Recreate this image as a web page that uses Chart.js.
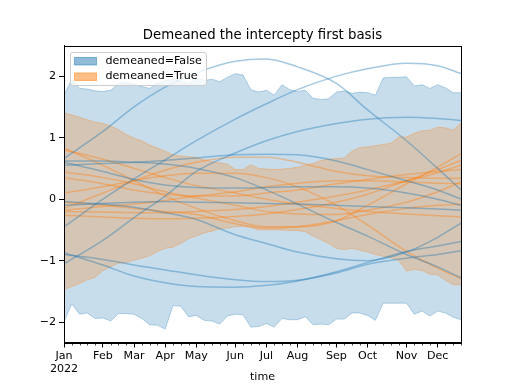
<!DOCTYPE html>
<html>
<head>
<meta charset="utf-8">
<script src="https://cdn.jsdelivr.net/npm/chart.js@4.4.0/dist/chart.umd.min.js"></script>
<style>
  html, body { margin: 0; padding: 0; background: #fff; }
</style>
</head>
<body>
<canvas id="chart" width="512" height="384"></canvas>
<script>
// weekly bands (52 weeks of 2022)
var blueUpper = [1.69,1.95,1.80,1.79,1.76,1.75,1.77,1.88,1.90,1.87,1.83,1.80,1.89,1.93,1.95,1.92,1.88,1.97,1.93,1.95,1.91,1.98,2.04,2.02,1.78,1.74,
                 1.77,1.69,1.86,1.78,1.75,1.77,1.64,1.62,1.63,1.74,1.76,1.72,1.74,1.73,1.69,1.97,1.98,1.98,1.99,1.84,1.86,1.80,1.86,1.81,1.73,1.73];
var blueLower = [-1.99,-1.70,-1.87,-1.85,-1.94,-1.93,-1.98,-1.86,-1.86,-1.87,-1.94,-2.04,-2.05,-2.11,-1.73,-1.74,-1.91,-1.89,-1.97,-1.98,-2.03,-1.90,-1.87,-1.88,-2.08,-2.07,
                 -2.02,-2.08,-1.94,-1.96,-1.96,-1.91,-2.04,-2.03,-2.04,-1.95,-1.95,-1.85,-1.85,-1.89,-1.97,-1.69,-1.69,-1.69,-1.69,-1.87,-1.82,-1.90,-1.82,-1.85,-1.92,-1.96];
var orangeUpper = [1.40,1.37,1.33,1.29,1.25,1.23,1.19,1.13,1.05,0.99,0.95,0.88,0.83,0.78,0.72,0.70,0.69,0.68,0.64,0.61,0.59,0.57,0.48,0.48,0.56,0.50,
                   0.49,0.48,0.49,0.50,0.52,0.55,0.58,0.63,0.65,0.66,0.67,0.78,0.84,0.85,0.87,0.89,0.91,1.01,1.01,1.07,1.11,1.12,1.17,1.16,1.12,1.24];
var orangeLower = [-1.47,-1.42,-1.37,-1.31,-1.27,-1.16,-1.10,-1.04,-1.03,-0.99,-0.96,-0.92,-0.85,-0.80,-0.78,-0.72,-0.64,-0.60,-0.55,-0.52,-0.48,-0.47,-0.45,-0.44,-0.46,-0.50,
                   -0.50,-0.50,-0.50,-0.51,-0.51,-0.53,-0.60,-0.66,-0.72,-0.80,-0.82,-0.80,-0.83,-0.86,-0.90,-0.93,-0.95,-1.00,-1.17,-1.14,-1.16,-1.22,-1.23,-1.32,-1.39,-1.39];

// sampled weeks for the individual curves
var lineWeeks = [0, 5, 9, 13, 17, 22, 26, 30, 35, 39, 44, 48, 51];
var blueLines = [
  [0.66, 1.10, 1.50, 1.82, 2.05, 2.24, 2.28, 2.15, 1.88, 1.45, 0.95, 0.50, 0.15],
  [-0.45, 0.00, 0.33, 0.64, 0.95, 1.30, 1.55, 1.78, 2.00, 2.12, 2.21, 2.17, 2.04],
  [-1.05, -0.67, -0.30, 0.05, 0.45, 0.75, 0.95, 1.10, 1.23, 1.30, 1.33, 1.31, 1.28],
  [0.55, 0.58, 0.60, 0.63, 0.67, 0.72, 0.73, 0.72, 0.62, 0.48, 0.30, 0.15, 0.00],
  [0.60, 0.45, 0.32, 0.23, 0.19, 0.18, 0.19, 0.20, 0.20, 0.18, 0.10, 0.00, -0.10],
  [-0.10, -0.07, -0.05, -0.04, -0.05, -0.06, -0.07, -0.08, -0.10, -0.12, -0.14, -0.16, -0.18],
  [0.62, 0.62, 0.60, 0.57, 0.50, 0.35, 0.15, -0.08, -0.38, -0.60, -0.90, -1.10, -1.28],
  [-0.87, -1.07, -1.25, -1.36, -1.42, -1.43, -1.40, -1.33, -1.18, -1.03, -0.85, -0.76, -0.69],
  [-0.90, -0.98, -1.07, -1.15, -1.23, -1.31, -1.34, -1.32, -1.20, -1.06, -0.96, -0.90, -0.84],
  [-0.04, -0.08, -0.13, -0.22, -0.33, -0.58, -0.72, -0.86, -0.97, -1.00, -0.86, -0.62, -0.39]
];
var orangeLines = [
  [0.83, 0.55, 0.30, 0.05, -0.15, -0.35, -0.45, -0.45, -0.35, -0.10, 0.25, 0.52, 0.74],
  [0.80, 0.65, 0.50, 0.35, 0.22, 0.10, 0.00, -0.08, -0.15, -0.20, -0.24, -0.27, -0.29],
  [0.44, 0.35, 0.25, 0.12, 0.02, -0.10, -0.20, -0.24, -0.25, -0.18, -0.05, 0.12, 0.28],
  [-0.15, 0.10, 0.30, 0.47, 0.60, 0.68, 0.68, 0.60, 0.45, 0.38, 0.35, 0.34, 0.34],
  [-0.20, -0.21, -0.22, -0.22, -0.20, -0.17, -0.12, -0.05, 0.05, 0.15, 0.30, 0.43, 0.55],
  [-0.26, -0.29, -0.31, -0.32, -0.31, -0.28, -0.24, -0.17, -0.05, 0.08, 0.30, 0.48, 0.63],
  [0.10, 0.20, 0.30, 0.38, 0.42, 0.42, 0.35, 0.20, -0.10, -0.42, -0.85, -1.12, -1.29],
  [-0.05, -0.10, -0.15, -0.20, -0.25, -0.40, -0.47, -0.45, -0.35, -0.25, -0.15, -0.10, -0.08],
  [0.35, 0.25, 0.15, 0.08, 0.05, 0.05, 0.10, 0.15, 0.25, 0.32, 0.40, 0.45, 0.48],
  [-0.18, -0.12, -0.08, -0.02, 0.05, 0.12, 0.20, 0.26, 0.30, 0.30, 0.28, 0.26, 0.25]
];

var majorWeeks = [0, 5, 9, 13, 17, 22, 26, 30, 35, 39, 44, 48];
var monthNames = ['Jan', 'Feb', 'Mar', 'Apr', 'May', 'Jun', 'Jul', 'Aug', 'Sep', 'Oct', 'Nov', 'Dec'];
var yearLabel = '2022';
var yTicks = [-2, -1, 0, 1, 2];
var legendLabels = ['demeaned=False', 'demeaned=True'];

var BLUE = '31,119,180';
var ORANGE = '255,127,14';
var FONT = 'DejaVu Sans';

var toPts = (arr) => arr.map((v, i) => ({x: i, y: v}));
var toLine = (arr) => arr.map((v, i) => ({x: lineWeeks[i], y: v}));

var band = (arr, rgb, fill, order) => ({
  data: toPts(arr),
  borderColor: 'rgba(' + rgb + ',0.3)',
  backgroundColor: 'rgba(' + rgb + ',0.25)',
  borderWidth: 1,
  pointRadius: 0,
  tension: 0,
  fill: fill,
  order: order
});

var curve = (arr, rgb) => ({
  data: toLine(arr),
  borderColor: 'rgba(' + rgb + ',0.4)',
  borderWidth: 1.5,
  pointRadius: 0,
  cubicInterpolationMode: 'monotone',
  fill: false,
  order: 1
});

var datasets = [
  band(blueUpper, BLUE, '+1', 20),
  band(blueLower, BLUE, false, 20),
  band(orangeUpper, ORANGE, '+1', 19),
  band(orangeLower, ORANGE, false, 19)
];
blueLines.forEach(l => datasets.push(curve(l, BLUE)));
orangeLines.forEach(l => datasets.push(curve(l, ORANGE)));

// box frame, minor ticks and the legend box
var extras = {
  id: 'extras',
  afterDraw(chart) {
    var ctx = chart.ctx, a = chart.chartArea, xs = chart.scales.x;
    ctx.save();
    ctx.strokeStyle = '#000';
    ctx.lineWidth = 1;
    ctx.strokeRect(Math.round(a.left) + 0.5, Math.round(a.top) + 0.5, Math.round(a.right - a.left), Math.round(a.bottom - a.top));
    ctx.lineWidth = 0.7;
    for (var w = 0; w < blueUpper.length; w++) {
      if (majorWeeks.indexOf(w) >= 0) continue;
      var px = Math.round(xs.getPixelForValue(w)) + 0.5;
      ctx.beginPath();
      ctx.moveTo(px, a.bottom);
      ctx.lineTo(px, a.bottom + 3);
      ctx.stroke();
    }
    // legend
    var bx = a.left + 6.5, by = a.top + 6.5, bw = 136, bh = 33, r = 2.5;
    ctx.beginPath();
    ctx.moveTo(bx + r, by);
    ctx.arcTo(bx + bw, by, bx + bw, by + bh, r);
    ctx.arcTo(bx + bw, by + bh, bx, by + bh, r);
    ctx.arcTo(bx, by + bh, bx, by, r);
    ctx.arcTo(bx, by, bx + bw, by, r);
    ctx.closePath();
    ctx.fillStyle = 'rgba(255,255,255,0.8)';
    ctx.fill();
    ctx.strokeStyle = '#cccccc';
    ctx.lineWidth = 1;
    ctx.stroke();
    var cols = [BLUE, ORANGE];
    ctx.font = '11.1px "' + FONT + '"';
    ctx.textBaseline = 'middle';
    for (var k = 0; k < legendLabels.length; k++) {
      var cy = by + 8.5 + k * 15.5;
      ctx.fillStyle = 'rgba(' + cols[k] + ',0.5)';
      ctx.strokeStyle = 'rgba(' + cols[k] + ',0.5)';
      ctx.fillRect(bx + 4, cy - 3.5, 22, 7.5);
      ctx.strokeRect(bx + 4, cy - 3.5, 22, 7.5);
      ctx.fillStyle = '#000';
      ctx.fillText(legendLabels[k], bx + 35, cy);
    }
    ctx.restore();
  }
};

var tickFont = {family: FONT, size: 11.1};

new Chart(document.getElementById('chart').getContext('2d'), {
  type: 'line',
  data: {datasets: datasets},
  options: {
    responsive: false,
    animation: false,
    devicePixelRatio: 1,
    layout: {padding: {left: 0, right: 51, top: 0, bottom: 0}},
    plugins: {
      legend: {display: false},
      tooltip: {enabled: false},
      title: {
        display: true,
        fullSize: false,
        text: 'Demeaned the intercepty first basis',
        color: '#000',
        font: {family: FONT, size: 13.3, weight: 'normal'},
        padding: {top: 28, bottom: 2}
      }
    },
    scales: {
      x: {
        type: 'linear',
        min: 0,
        max: blueUpper.length - 1,
        afterBuildTicks: (s) => { s.ticks = majorWeeks.map(v => ({value: v})); },
        afterFit: (s) => { s.height = 41.5; },
        ticks: {
          autoSkip: false,
          maxRotation: 0,
          color: '#000',
          font: tickFont,
          padding: 2,
          callback: (v, i) => i === 0 ? [monthNames[0], yearLabel] : monthNames[i]
        },
        title: {display: true, text: 'time', color: '#000', font: tickFont, padding: {top: 0, bottom: 0}},
        grid: {drawOnChartArea: false, tickLength: 5, color: '#000'},
        border: {color: '#000', width: 1}
      },
      y: {
        type: 'linear',
        min: -2.33,
        max: 2.49,
        afterBuildTicks: (s) => { s.ticks = yTicks.map(v => ({value: v})); },
        afterFit: (s) => { s.width = 64; },
        ticks: {
          color: '#000',
          font: tickFont,
          padding: 3,
          callback: (v) => v < 0 ? '\u2212' + Math.abs(v) : String(v)
        },
        grid: {drawOnChartArea: false, tickLength: 5, color: '#000'},
        border: {color: '#000', width: 1}
      }
    }
  },
  plugins: [extras]
});
</script>
</body>
</html>
